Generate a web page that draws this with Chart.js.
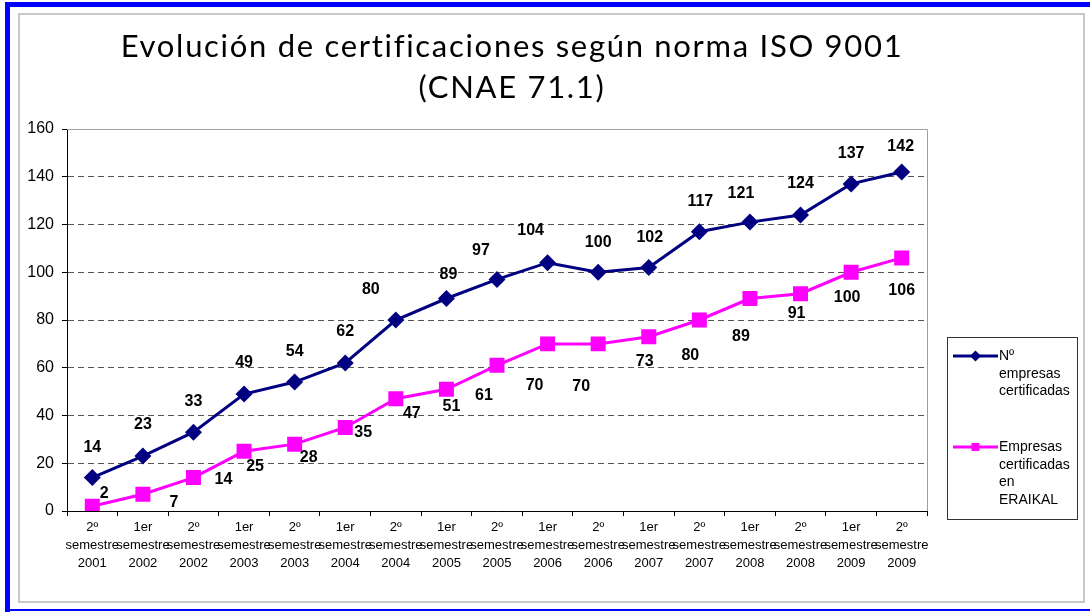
<!DOCTYPE html>
<html>
<head>
<meta charset="utf-8">
<script src="https://cdn.jsdelivr.net/npm/chart.js@4/dist/chart.umd.min.js"></script>
<style>
    html, body { margin: 0; padding: 0; background: #fff; }
    body { width: 1090px; height: 612px; position: relative; overflow: hidden; }
    .blue-top { position: absolute; left: 5px; top: 2px; width: 1085px; height: 5px; background: #0000ff; }
    .blue-left { position: absolute; left: 5px; top: 2px; width: 5px; height: 610px; background: #0000ff; }
    .blue-bottom { position: absolute; left: 5px; top: 609px; width: 1085px; height: 2px; background: #0000ff; }
    .frame { position: absolute; left: 18px; top: 13px; width: 1067px; height: 590px; box-sizing: border-box; border: 2px solid #c8c8c8; }
    #chart { position: absolute; left: 0; top: 0; }
</style>
</head>
<body>
<div class="blue-top"></div>
<div class="blue-left"></div>
<div class="blue-bottom"></div>
<div class="frame"></div>
<canvas id="chart" width="1090" height="612"></canvas>
<script>
const titleLines = ['Evolución de certificaciones según norma ISO 9001', '(CNAE 71.1)'];

const categories = [
    ['2º', 'semestre', '2001'], ['1er', 'semestre', '2002'], ['2º', 'semestre', '2002'],
    ['1er', 'semestre', '2003'], ['2º', 'semestre', '2003'], ['1er', 'semestre', '2004'],
    ['2º', 'semestre', '2004'], ['1er', 'semestre', '2005'], ['2º', 'semestre', '2005'],
    ['1er', 'semestre', '2006'], ['2º', 'semestre', '2006'], ['1er', 'semestre', '2007'],
    ['2º', 'semestre', '2007'], ['1er', 'semestre', '2008'], ['2º', 'semestre', '2008'],
    ['1er', 'semestre', '2009'], ['2º', 'semestre', '2009']
];

const certifiedCompanies = [14, 23, 33, 49, 54, 62, 80, 89, 97, 104, 100, 102, 117, 121, 124, 137, 142];
const eraikalCompanies = [2, 7, 14, 25, 28, 35, 47, 51, 61, 70, 70, 73, 80, 89, 91, 100, 106];

const certifiedName = ['Nº', 'empresas', 'certificadas'];
const eraikalName = ['Empresas', 'certificadas', 'en', 'ERAIKAL'];

const yTicks = [0, 20, 40, 60, 80, 100, 120, 140, 160];

// label nudges (px) relative to each point, as placed by hand in the original
const certifiedLabelShift = [[0, -30], [0, -31], [0, -31], [0, -31], [0, -30], [0, -31], [-25, -30], [2, -24], [-16, -29],
    [-17, -32], [0, -30], [1, -30], [1, -30], [-9, -29], [0, -31], [0, -30], [-1, -25]];
const eraikalLabelShift = [[12, -13], [31, 8], [30, 2], [11, 15], [14, 13], [18, 5], [16, 15], [5, 17], [-13, 30],
    [-13, 42], [-17, 43], [-4, 25], [-9, 36], [-9, 38], [-4, 20], [-4, 25], [0, 33]];

const NAVY = '#000080';
const MAGENTA = '#ff00ff';
const FONT = '"Liberation Sans", Arial, sans-serif';

const titlePlugin = {
    id: 'twoLineTitle',
    afterDraw(chart) {
        const ctx = chart.ctx;
        ctx.save();
        ctx.fillStyle = '#000';
        ctx.font = '31px Lato, "Noto Sans", sans-serif';
        if ('letterSpacing' in ctx) ctx.letterSpacing = '1.7px';
        ctx.textAlign = 'center';
        ctx.textBaseline = 'alphabetic';
        ctx.fillText(titleLines[0], 512, 57);
        ctx.fillText(titleLines[1], 512, 98);
        ctx.restore();
    }
};

const plotFramePlugin = {
    id: 'plotFrame',
    beforeDatasetsDraw(chart) {
        const { ctx, chartArea: a } = chart;
        ctx.save();
        ctx.strokeStyle = '#a0a0a0';
        ctx.lineWidth = 1;
        ctx.beginPath();
        ctx.moveTo(a.left, a.top + 0.5);
        ctx.lineTo(a.right + 0.5, a.top + 0.5);
        ctx.lineTo(a.right + 0.5, a.bottom);
        ctx.stroke();
        ctx.restore();
    }
};

const valueLabelPlugin = {
    id: 'valueLabels',
    afterDatasetsDraw(chart) {
        const ctx = chart.ctx;
        const shifts = [certifiedLabelShift, eraikalLabelShift];
        ctx.save();
        ctx.font = 'bold 16px ' + FONT;
        ctx.fillStyle = '#000';
        ctx.textAlign = 'center';
        ctx.textBaseline = 'middle';
        chart.data.datasets.forEach((ds, di) => {
            const meta = chart.getDatasetMeta(di);
            meta.data.forEach((pt, i) => {
                const [dx, dy] = shifts[di][i];
                ctx.fillText(String(ds.data[i]), pt.x + dx, pt.y + dy);
            });
        });
        ctx.restore();
    }
};

function drawMarker(ctx, style, x, y, r, color) {
    ctx.fillStyle = color;
    ctx.beginPath();
    if (style === 'rectRot') {
        ctx.moveTo(x, y - r);
        ctx.lineTo(x + r, y);
        ctx.lineTo(x, y + r);
        ctx.lineTo(x - r, y);
        ctx.closePath();
    } else {
        ctx.rect(x - r, y - r, 2 * r, 2 * r);
    }
    ctx.fill();
}

const boxedLegendPlugin = {
    id: 'boxedLegend',
    afterDraw(chart) {
        const ctx = chart.ctx;
        const left = 947, top = 337, w = 130, h = 182;
        const entries = [
            { lines: certifiedName, y: 356, ds: chart.data.datasets[0], r: 5.5 },
            { lines: eraikalName, y: 447, ds: chart.data.datasets[1], r: 4 }
        ];
        ctx.save();
        ctx.strokeStyle = '#333';
        ctx.lineWidth = 1;
        ctx.strokeRect(left + 0.5, top + 0.5, w, h);
        ctx.font = '14px ' + FONT;
        ctx.textAlign = 'left';
        ctx.textBaseline = 'middle';
        for (const e of entries) {
            ctx.strokeStyle = e.ds.borderColor;
            ctx.lineWidth = 3;
            ctx.beginPath();
            ctx.moveTo(953, e.y);
            ctx.lineTo(998, e.y);
            ctx.stroke();
            drawMarker(ctx, e.ds.pointStyle, 975.5, e.y, e.r, e.ds.backgroundColor);
            ctx.fillStyle = '#000';
            e.lines.forEach((line, k) => ctx.fillText(line, 999, e.y + k * 17.8));
        }
        ctx.restore();
    }
};

new Chart(document.getElementById('chart'), {
    type: 'line',
    data: {
        labels: categories,
        datasets: [
            {
                label: certifiedName.join(' '),
                data: certifiedCompanies,
                borderColor: NAVY,
                backgroundColor: NAVY,
                borderWidth: 3,
                pointStyle: 'rectRot',
                pointRadius: 8.5,
                pointBorderWidth: 0,
                tension: 0
            },
            {
                label: eraikalName.join(' '),
                data: eraikalCompanies,
                borderColor: MAGENTA,
                backgroundColor: MAGENTA,
                borderWidth: 3,
                pointStyle: 'rect',
                pointRadius: 10.6,
                pointBorderWidth: 0,
                tension: 0
            }
        ]
    },
    options: {
        responsive: false,
        animation: false,
        layout: { padding: { left: 20, right: 163, top: 129, bottom: 41 } },
        plugins: {
            legend: { display: false },
            title: { display: false },
            tooltip: { enabled: false }
        },
        scales: {
            x: {
                type: 'category',
                offset: true,
                afterFit: (scale) => { scale.height = 60; },
                grid: {
                    offset: true,
                    drawOnChartArea: false,
                    drawTicks: true,
                    tickLength: 5,
                    tickColor: '#000'
                },
                border: { color: '#000', width: 1 },
                ticks: {
                    autoSkip: false,
                    maxRotation: 0,
                    padding: 2,
                    color: '#000',
                    font: { family: FONT, size: 13, lineHeight: '18px' }
                }
            },
            y: {
                min: 0,
                max: 160,
                afterFit: (scale) => { scale.width = 47; },
                afterBuildTicks: (scale) => { scale.ticks = yTicks.map(v => ({ value: v })); },
                grid: {
                    color: (c) => (c.tick && c.tick.value === 160 ? '#a0a0a0' : '#555'),
                    lineWidth: 1,
                    drawTicks: true,
                    tickLength: 5,
                    tickColor: '#000'
                },
                border: {
                    color: '#000',
                    width: 1,
                    dash: (c) => (c.tick && c.tick.value > 0 && c.tick.value < 160 ? [6, 4] : [])
                },
                ticks: {
                    padding: 8,
                    color: '#000',
                    font: { family: FONT, size: 16 }
                }
            }
        }
    },
    plugins: [plotFramePlugin, valueLabelPlugin, boxedLegendPlugin, titlePlugin]
});
</script>
</body>
</html>
